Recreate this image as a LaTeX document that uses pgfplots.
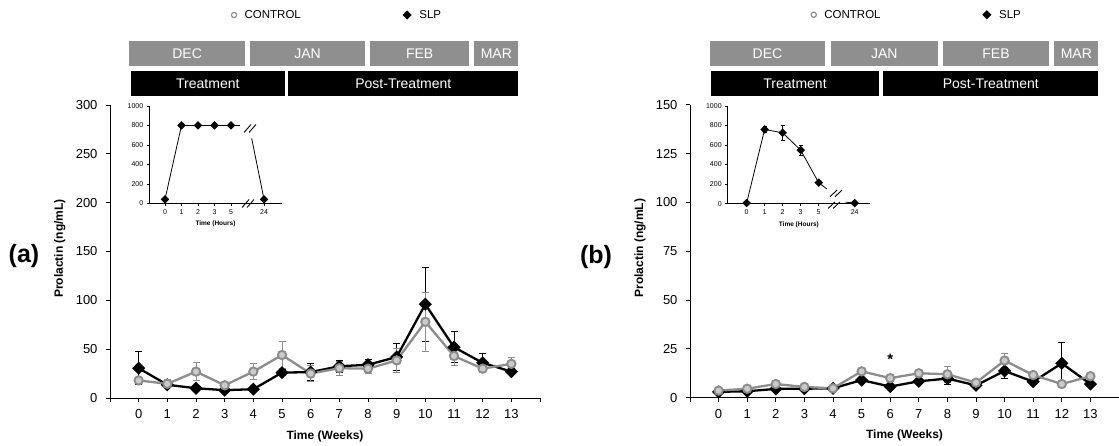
\documentclass[border=0pt]{standalone}
\usepackage{fontspec}
\setmainfont{Liberation Sans}
\usepackage{pgfplots}
\pgfplotsset{compat=1.18}

\definecolor{ctrl}{RGB}{140,140,140}
\definecolor{month}{RGB}{143,143,143}
\newcommand\hfont{\fontsize{14}{14}\selectfont}
\newcommand\gbox[3]{\path[fill=month] (#1pt,380.3pt) rectangle node[text=white,font=\hfont]{#3} (#2pt,404.7pt);}
\newcommand\kbox[3]{\path[fill=black] (#1pt,350pt) rectangle node[text=white,font=\hfont]{#3} (#2pt,375.3pt);}

\pgfplotsset{
  mainax/.style={
    scale only axis, anchor=south west, height=293pt, xmin=-1, xmax=14, ymin=0,
    axis x line=bottom, axis y line=left, axis line style={-, line width=0.8pt},
    tick align=outside, major tick length=4pt, tick style={line width=0.8pt, black},
    xtick={-1,...,14}, xticklabels={{},0,1,2,3,4,5,6,7,8,9,10,11,12,13,{}},
    ticklabel style={font=\fontsize{13}{13}\selectfont},
    xticklabel style={yshift=-4pt}, yticklabel style={xshift=-5pt},
    /pgf/number format/assume math mode=true,
    xlabel={Time (Weeks)}, ylabel={Prolactin (ng/mL)},
    label style={font=\fontsize{12}{12}\selectfont\bfseries},
    xlabel style={at={(axis description cs:0.5,-0.13)}, anchor=center},
    ylabel style={at={(axis description cs:-0.1165,0.51)}, anchor=center},
    clip=false,
    legend style={at={(0.275,1.307)}, anchor=west, legend columns=2, draw=none, fill=none,
      font=\fontsize{11.5}{12}\selectfont,
      /tikz/every odd column/.append style={column sep=6pt},
      /tikz/every even column/.append style={column sep=100pt}},
  },
  inax/.style={
    scale only axis, anchor=south west, ymin=0, ymax=1000,
    axis x line=bottom, axis y line=left, axis line style={-, line width=0.6pt},
    tick align=outside, major tick length=2.5pt, tick style={line width=0.6pt, black},
    xtick={0,1,2,3,4,6}, xticklabels={0,1,2,3,5,24},
    ytick={0,200,...,1000}, yticklabels={0,200,400,600,800,1000},
    ticklabel style={font=\fontsize{7}{7}\selectfont},
    xlabel={Time (Hours)}, xlabel style={font=\fontsize{6.5}{6.5}\selectfont\bfseries},
    clip=false,
  },
  slp/.style={black, line width=2.3pt, mark=square*, mark size=3.5pt,
    mark options={rotate=45, solid},
    error bars/y dir=both, error bars/y explicit,
    error bars/error bar style={line width=1pt, black},
    error bars/error mark options={rotate=90, mark size=3.5pt, line width=1pt, black}},
  con/.style={ctrl, line width=2.3pt, mark=*, mark size=4.2pt,
    mark options={solid, draw=ctrl, fill=ctrl!45, line width=1.9pt},
    error bars/y dir=both, error bars/y explicit,
    error bars/error bar style={line width=1pt, ctrl},
    error bars/error mark options={rotate=90, mark size=3.5pt, line width=1pt, ctrl}},
  islp/.style={black, line width=0.8pt, mark=square*, mark size=2.6pt,
    mark options={rotate=45, solid},
    error bars/y dir=both, error bars/y explicit,
    error bars/error bar style={line width=0.7pt, black},
    error bars/error mark options={rotate=90, mark size=2pt, line width=0.7pt, black}},
}

\begin{document}
\begin{tikzpicture}
\useasboundingbox (0,0) rectangle (1119pt,446pt);

% ---------- panel (a)
\begin{axis}[mainax, at={(110pt,48pt)}, width=430pt, ymax=300, ytick={0,50,...,300}]
\addlegendimage{only marks, mark=o, mark size=2.6pt, ctrl, line width=1.2pt}
\addlegendentry{CONTROL}
\addlegendimage{only marks, mark=square*, mark size=3pt, mark options={rotate=45}, black}
\addlegendentry{SLP}
\addplot[slp, forget plot] coordinates {
 (0,30.5) +- (0,17) (1,13.5) +- (0,3) (2,10) +- (0,2) (3,8) +- (0,1.5)
 (4,9) +- (0,1.5) (5,26) +- (0,3) (6,26.5) +- (0,9) (7,32.5) +- (0,6)
 (8,34) +- (0,5) (9,42) +- (0,14) (10,96) +- (0,38) (11,52) +- (0,16)
 (12,36) +- (0,10) (13,27) +- (0,3)};
\addplot[con, forget plot] coordinates {
 (0,18) +- (0,3) (1,14.5) +- (0,4) (2,27) +- (0,9) (3,13) +- (0,3)
 (4,27) +- (0,8) (5,44) +- (0,14) (6,25) +- (0,8) (7,30.5) +- (0,7)
 (8,30) +- (0,5) (9,38.5) +- (0,12) (10,78) +- (0,30) (11,43) +- (0,10)
 (12,30) +- (0,4) (13,35) +- (0,6)};
\end{axis}

\begin{axis}[inax, at={(149.3pt,242.7pt)}, width=132.4pt, height=97.3pt, xmin=-0.95, xmax=7.07]
\addplot[islp] coordinates {(0,40) (1,800) (2,800) (3,800) (4,800)};
\addplot[black, line width=0.8pt] coordinates {(4,800) (4.55,800)};
\addplot[islp, mark indices={2}] coordinates {(5.25,668) (6,40)};
\addplot[black, line width=0.9pt] coordinates {(4.79,728) (5.21,810)};
\addplot[black, line width=0.9pt] coordinates {(5.09,728) (5.51,810)};
\addplot[black, line width=0.9pt] coordinates {(4.67,-43) (5.09,39)};
\addplot[black, line width=0.9pt] coordinates {(4.97,-43) (5.39,39)};
\end{axis}

% ---------- panel (b)
\begin{axis}[mainax, at={(690pt,48.3pt)}, width=429pt, ymax=150, ytick={0,25,...,150}]
\addlegendimage{only marks, mark=o, mark size=2.6pt, ctrl, line width=1.2pt}
\addlegendentry{CONTROL}
\addlegendimage{only marks, mark=square*, mark size=3pt, mark options={rotate=45}, black}
\addlegendentry{SLP}
\addplot[slp, forget plot] coordinates {
 (0,3) +- (0,0.3) (1,3.3) +- (0,0.5) (2,4.5) +- (0,0.5) (3,4.6) +- (0,0.5)
 (4,4.8) +- (0,0.5) (5,9) +- (0,1) (6,5.7) +- (0,1) (7,8.4) +- (0,1)
 (8,9.8) +- (0,3) (9,6.3) +- (0,1) (10,13.7) +- (0,4) (11,8.2) +- (0,1)
 (12,17.6) +- (0,10.5) (13,7) +- (0,1)};
\addplot[con, forget plot] coordinates {
 (0,3.6) +- (0,0.5) (1,4.6) +- (0,1) (2,7) +- (0,1) (3,5.5) +- (0,1)
 (4,4.8) +- (0,0.5) (5,13.5) +- (0,1.5) (6,10) +- (0,1.5) (7,12.5) +- (0,1.5)
 (8,12) +- (0,4) (9,7.7) +- (0,1.5) (10,19) +- (0,3.5) (11,11.6) +- (0,1.5)
 (12,7) +- (0,1.5) (13,11) +- (0,1.5)};
\node[font=\fontsize{15}{15}\selectfont\bfseries, yshift=-3pt] at (axis cs:6,21.4) {*};
\end{axis}

\begin{axis}[inax, at={(727.7pt,242.4pt)}, width=142.3pt, height=97.6pt, xmin=-1.05, xmax=6.85]
\addplot[islp] coordinates {(0,5) +- (0,0) (1,760) +- (0,30) (2,725) +- (0,80)
 (3,548) +- (0,50) (4,215) +- (0,20)};
\addplot[black, line width=0.8pt] coordinates {(4,215) (4.45,150)};
\addplot[islp, mark indices={2}] coordinates {(5.5,15) (6,5)};
\addplot[black, line width=0.9pt] coordinates {(4.63,70) (5.02,140)};
\addplot[black, line width=0.9pt] coordinates {(4.91,70) (5.30,140)};
\addplot[black, line width=0.9pt] coordinates {(4.52,-50) (4.90,16)};
\addplot[black, line width=0.9pt] coordinates {(4.80,-50) (5.18,16)};
\end{axis}

% ---------- headers
\gbox{129.3}{245}{DEC}
\gbox{250}{365}{JAN}
\gbox{370}{469.3}{FEB}
\gbox{474.3}{518.3}{MAR}
\kbox{130.7}{285}{Treatment}
\kbox{288.3}{518.3}{Post-Treatment}

\gbox{710}{825}{DEC}
\gbox{831}{937.7}{JAN}
\gbox{942.7}{1049.3}{FEB}
\gbox{1054.3}{1098.3}{MAR}
\kbox{710.7}{879.3}{Treatment}
\kbox{883.3}{1098.3}{Post-Treatment}

\node[font=\fontsize{25}{25}\selectfont\bfseries] at (24pt,190pt) {(a)};
\node[font=\fontsize{25}{25}\selectfont\bfseries] at (596pt,189pt) {(b)};
\end{tikzpicture}
\end{document}
